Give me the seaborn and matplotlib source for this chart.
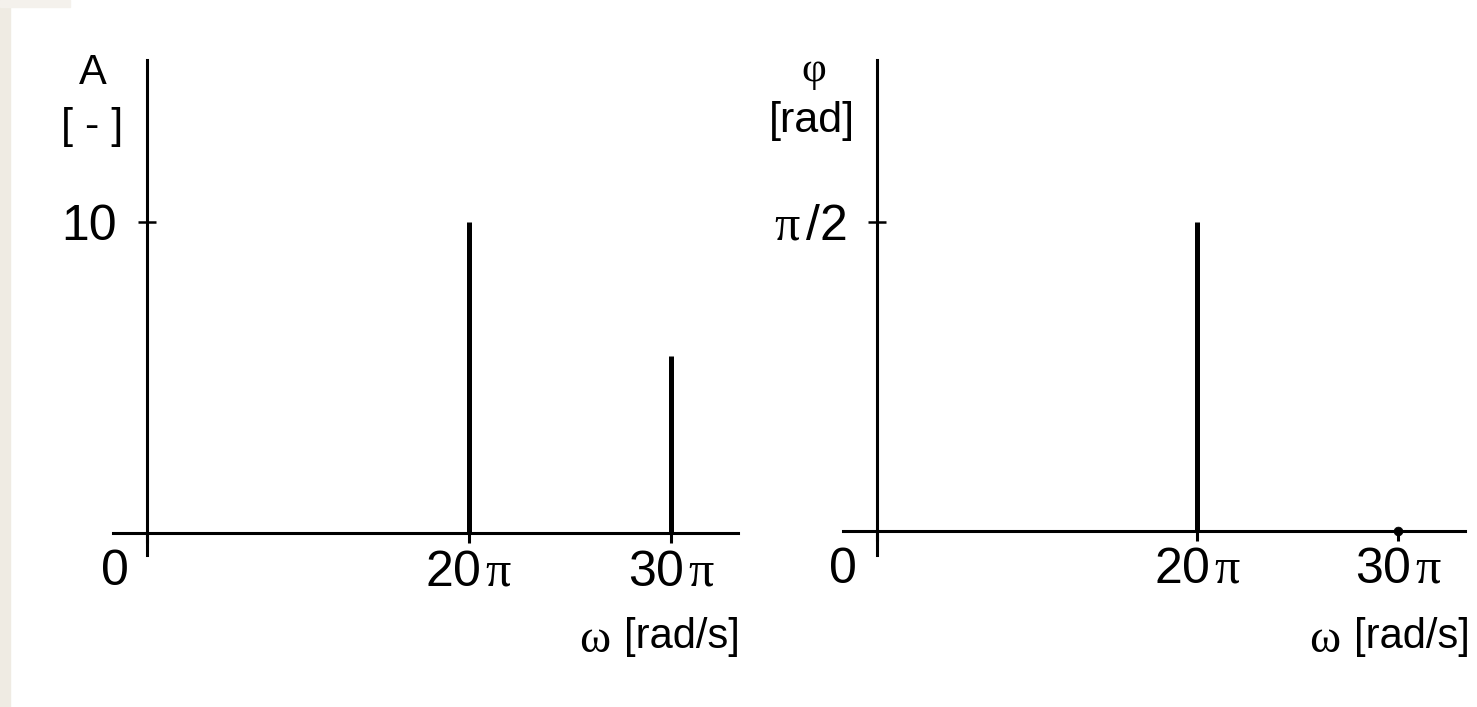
import numpy as np
import matplotlib
matplotlib.use("Agg")
import matplotlib.pyplot as plt
import matplotlib.transforms as mtransforms
import seaborn as sns

# spectral lines, omega given in multiples of pi
omega = [20, 30]
amplitude = [10, 5.7]
phase = [np.pi / 2, 0]

x_ticks = [0, 20, 30]
x_tick_labels = ["0", r"20$\hspace{0.12}\pi$", r"30$\hspace{0.12}\pi$"]
amp_ticks = [10]
amp_tick_labels = ["10"]
phase_ticks = [np.pi / 2]
phase_tick_labels = [r"$\pi\,$/2"]

sns.set_style("white")
plt.rcParams["font.family"] = ["Liberation Sans", "DejaVu Sans"]
plt.rcParams["mathtext.fontset"] = "custom"
plt.rcParams["mathtext.it"] = "Liberation Serif"
plt.rcParams["mathtext.rm"] = "Liberation Serif"
for key in ["text.color", "axes.labelcolor", "xtick.color", "ytick.color"]:
    plt.rcParams[key] = "black"

# the sketch is not to scale: 30pi sits farther out than 20pi would suggest
STRETCH = 1.26


def fwd(x):
    x = np.asarray(x, dtype=float)
    return np.where(x <= 20, x, 20 + (x - 20) * STRETCH)


def inv(y):
    y = np.asarray(y, dtype=float)
    return np.where(y <= 20, y, 20 + (y - 20) / STRETCH)


W, H = 1477, 707
fig = plt.figure(figsize=(W / 100, H / 100), dpi=100)
fig.patches.append(plt.Rectangle((0, 0), 10 / W, 1, transform=fig.transFigure,
                                 color="#efebe3", zorder=0))
fig.patches.append(plt.Rectangle((0, 1 - 7 / H), 70 / W, 7 / H, transform=fig.transFigure,
                                 color="#f4f1ec", zorder=0))


def px_box(x0, x1, ytop, ybot):
    return [x0 / W, 1 - ybot / H, (x1 - x0) / W, (ybot - ytop) / H]


def setup(ax, ylim, yticks, ylabels, zero_shift):
    ax.set_xscale("function", functions=(fwd, inv))
    ax.set_xlim(-2.12, 33.3)
    ax.set_ylim(*ylim)
    for s in ["top", "right"]:
        ax.spines[s].set_visible(False)
    for s in ["left", "bottom"]:
        ax.spines[s].set_position(("data", 0))
        ax.spines[s].set_linewidth(2.2)
        ax.spines[s].set_color("black")
    ax.set_xticks(x_ticks)
    ax.set_xticklabels(x_tick_labels, fontsize=36)
    ax.set_yticks(yticks)
    ax.set_yticklabels(ylabels, fontsize=36)
    ax.tick_params(axis="x", bottom=True, direction="out", length=7.5, width=2.2, pad=4)
    ax.tick_params(axis="y", left=True, direction="inout", length=13, width=1.8, pad=15)
    lab = ax.get_xticklabels()[0]
    lab.set_transform(lab.get_transform() +
                      mtransforms.ScaledTranslation(zero_shift / 100, 0, fig.dpi_scale_trans))
    ax.grid(False)
    ax.set_facecolor("none")


# amplitude spectrum
ax1 = fig.add_axes(px_box(113, 738, 60, 555))
setup(ax1, (-0.7, 15.2), amp_ticks, amp_tick_labels, -32)
ax1.vlines(omega, 0, amplitude, color="black", lw=3.6)

# phase spectrum
ax2 = fig.add_axes(px_box(843, 1465, 60, 555))
setup(ax2, (-0.122, 2.394), phase_ticks, phase_tick_labels, -34)
ax2.vlines(omega, 0, phase, color="black", lw=3.6)
zero_w = [w for w, p in zip(omega, phase) if p == 0]
sns.scatterplot(x=zero_w, y=[0] * len(zero_w), ax=ax2, color="black", s=40,
                edgecolor="black", zorder=5, legend=False)

# axis names
fig.text(93 / W, 1 - 73 / H, "A", fontsize=30, ha="center", va="center")
fig.text(92 / W, 1 - 127 / H, "[ - ]", fontsize=31, ha="center", va="center")
fig.text(814 / W, 1 - 72 / H, r"$\varphi$", fontsize=31, ha="center", va="center")
fig.text(812 / W, 1 - 121 / H, "[rad]", fontsize=31, ha="center", va="center")
for right in (740, 1470):
    fig.text(right / W, 1 - 637 / H, "[rad/s]", fontsize=30, ha="right", va="center")
    fig.text((right - 130) / W, 1 - 640 / H, r"$\omega$", fontsize=34, ha="right",
             va="center")

fig.savefig("out.png", dpi=100, facecolor="white")
